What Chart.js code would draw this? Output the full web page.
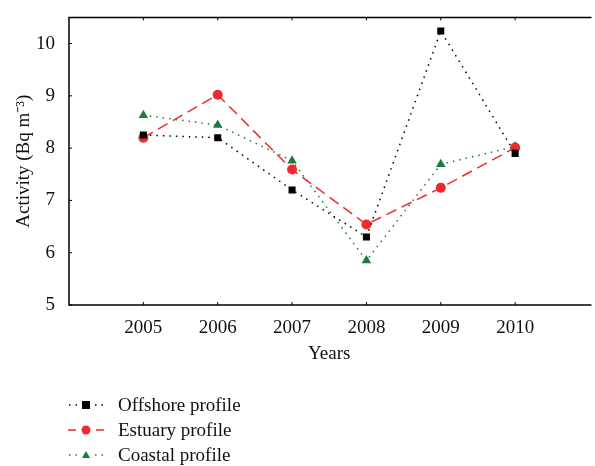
<!DOCTYPE html>
<html>
<head>
<meta charset="utf-8">
<script src="https://cdn.jsdelivr.net/npm/chart.js@4/dist/chart.umd.min.js"></script>
<style>
  html, body { margin: 0; padding: 0; background: #fff; }
  #wrap { position: relative; width: 595px; height: 380px; }
  #legend { position: absolute; left: 66px; top: 392px; font-family: "Liberation Serif", serif; font-size: 19px; color: #111; }
  .row { height: 25px; display: flex; align-items: center; }
  .row canvas { margin-right: 12px; }
</style>
</head>
<body>
<div id="wrap"><canvas id="c"></canvas></div>
<div id="legend"></div>
<script>
  // valeurs
  var years = [2005, 2006, 2007, 2008, 2009, 2010];
  var offshore = [8.25, 8.20, 7.20, 6.30, 10.24, 7.90];
  var estuary = [8.20, 9.02, 7.59, 6.54, 7.24, 8.01];
  var coastal = [8.63, 8.44, 7.76, 5.85, 7.69, 8.03];
  var yTicks = [5, 6, 7, 8, 9, 10];

  var FONT = '"Liberation Serif", serif';
  var RED = '#ee2a2e';
  var GREEN = '#1b7c3c';

  function pts(vals) {
    return years.map(function (y, i) {
      return { x: y, y: vals[i] };
    });
  }

  var series = [
    { label: 'Offshore profile', data: offshore, color: '#000', dash: [1.5, 5], style: 'rect', radius: 5 },
    { label: 'Estuary profile', data: estuary, color: RED, dash: [11, 6], style: 'circle', radius: 5 },
    { label: 'Coastal profile', data: coastal, color: GREEN, dash: [1.5, 5], style: 'triangle', radius: 5.5 }
  ];

  // cadre + graduations vers l'intérieur
  var framePlugin = {
    id: 'frame',
    afterDraw: function (chart) {
      var a = chart.chartArea, ctx = chart.ctx;
      ctx.save();
      ctx.strokeStyle = '#000';
      ctx.lineWidth = 1.5;
      ctx.beginPath();
      ctx.moveTo(a.right + 2, a.top);
      ctx.lineTo(a.left, a.top);
      ctx.lineTo(a.left, a.bottom);
      ctx.lineTo(a.right + 2, a.bottom);
      ctx.stroke();
      ctx.lineWidth = 1;
      chart.scales.x.ticks.forEach(function (t) {
        var px = chart.scales.x.getPixelForValue(t.value);
        ctx.beginPath();
        ctx.moveTo(px, a.bottom); ctx.lineTo(px, a.bottom - 3);
        ctx.moveTo(px, a.top); ctx.lineTo(px, a.top + 3);
        ctx.stroke();
      });
      chart.scales.y.ticks.forEach(function (t) {
        var py = chart.scales.y.getPixelForValue(t.value);
        ctx.beginPath();
        ctx.moveTo(a.left, py); ctx.lineTo(a.left + 3, py);
        ctx.stroke();
      });
      ctx.restore();
    }
  };

  new Chart(document.getElementById('c'), {
    type: 'line',
    data: {
      datasets: series.map(function (s) {
        return {
          label: s.label,
          data: pts(s.data),
          borderColor: s.color,
          backgroundColor: s.color,
          borderWidth: 1.5,
          borderDash: s.dash,
          pointStyle: s.style,
          pointRadius: s.radius,
          pointBorderWidth: 0,
          tension: 0,
          fill: false
        };
      })
    },
    options: {
      responsive: true,
      maintainAspectRatio: false,
      animation: false,
      layout: { padding: { top: 13, left: 0, right: 0, bottom: 0 } },
      plugins: { legend: { display: false }, tooltip: { enabled: false } },
      scales: {
        x: {
          type: 'linear',
          min: 2004,
          max: 2011,
          afterBuildTicks: function (scale) {
            scale.ticks = years.map(function (v) { return { value: v }; });
          },
          afterFit: function (scale) { scale.height = 75; },
          grid: { display: false },
          border: { display: false },
          ticks: {
            font: { family: FONT, size: 19 },
            color: '#111',
            padding: 4,
            callback: function (v) { return String(v); }
          },
          title: {
            display: true,
            text: 'Years',
            font: { family: FONT, size: 19 },
            color: '#111',
            padding: { top: 2, bottom: 15 }
          }
        },
        y: {
          min: 5,
          max: 10.5,
          afterBuildTicks: function (scale) {
            scale.ticks = yTicks.map(function (v) { return { value: v }; });
          },
          afterFit: function (scale) { scale.width = 69; },
          grid: { display: false },
          border: { display: false },
          ticks: {
            font: { family: FONT, size: 19 },
            color: '#111',
            padding: 6
          },
          title: {
            display: true,
            text: 'Activity (Bq m\u207B\u00B3)',
            font: { family: FONT, size: 19 },
            color: '#111',
            padding: { top: 13, bottom: 0 }
          }
        }
      }
    },
    plugins: [framePlugin]
  });

  // légende HTML avec petit symbole trait + marqueur
  var legend = document.getElementById('legend');
  series.forEach(function (s) {
    var row = document.createElement('div');
    row.className = 'row';
    var cv = document.createElement('canvas');
    cv.width = 40; cv.height = 14;
    var g = cv.getContext('2d');
    g.strokeStyle = s.color;
    g.fillStyle = s.color;
    g.lineWidth = 1.5;
    g.setLineDash(s.style === 'circle' ? [8, 6] : [1.5, 5]);
    g.beginPath();
    g.moveTo(s.style === 'circle' ? 2 : 3, 7); g.lineTo(39, 7);
    g.stroke();
    g.setLineDash([]);
    g.beginPath();
    if (s.style === 'rect') {
      g.clearRect(13, 0, 14, 14);
      g.fillRect(16, 3, 8, 8);
    } else if (s.style === 'circle') {
      g.clearRect(13, 0, 14, 14);
      g.arc(20, 7, 4.5, 0, Math.PI * 2);
      g.fill();
    } else {
      g.clearRect(13, 0, 14, 14);
      g.moveTo(20, 3); g.lineTo(24, 10); g.lineTo(16, 10);
      g.closePath();
      g.fill();
    }
    row.appendChild(cv);
    var span = document.createElement('span');
    span.textContent = s.label;
    row.appendChild(span);
    legend.appendChild(row);
  });
</script>
</body>
</html>
